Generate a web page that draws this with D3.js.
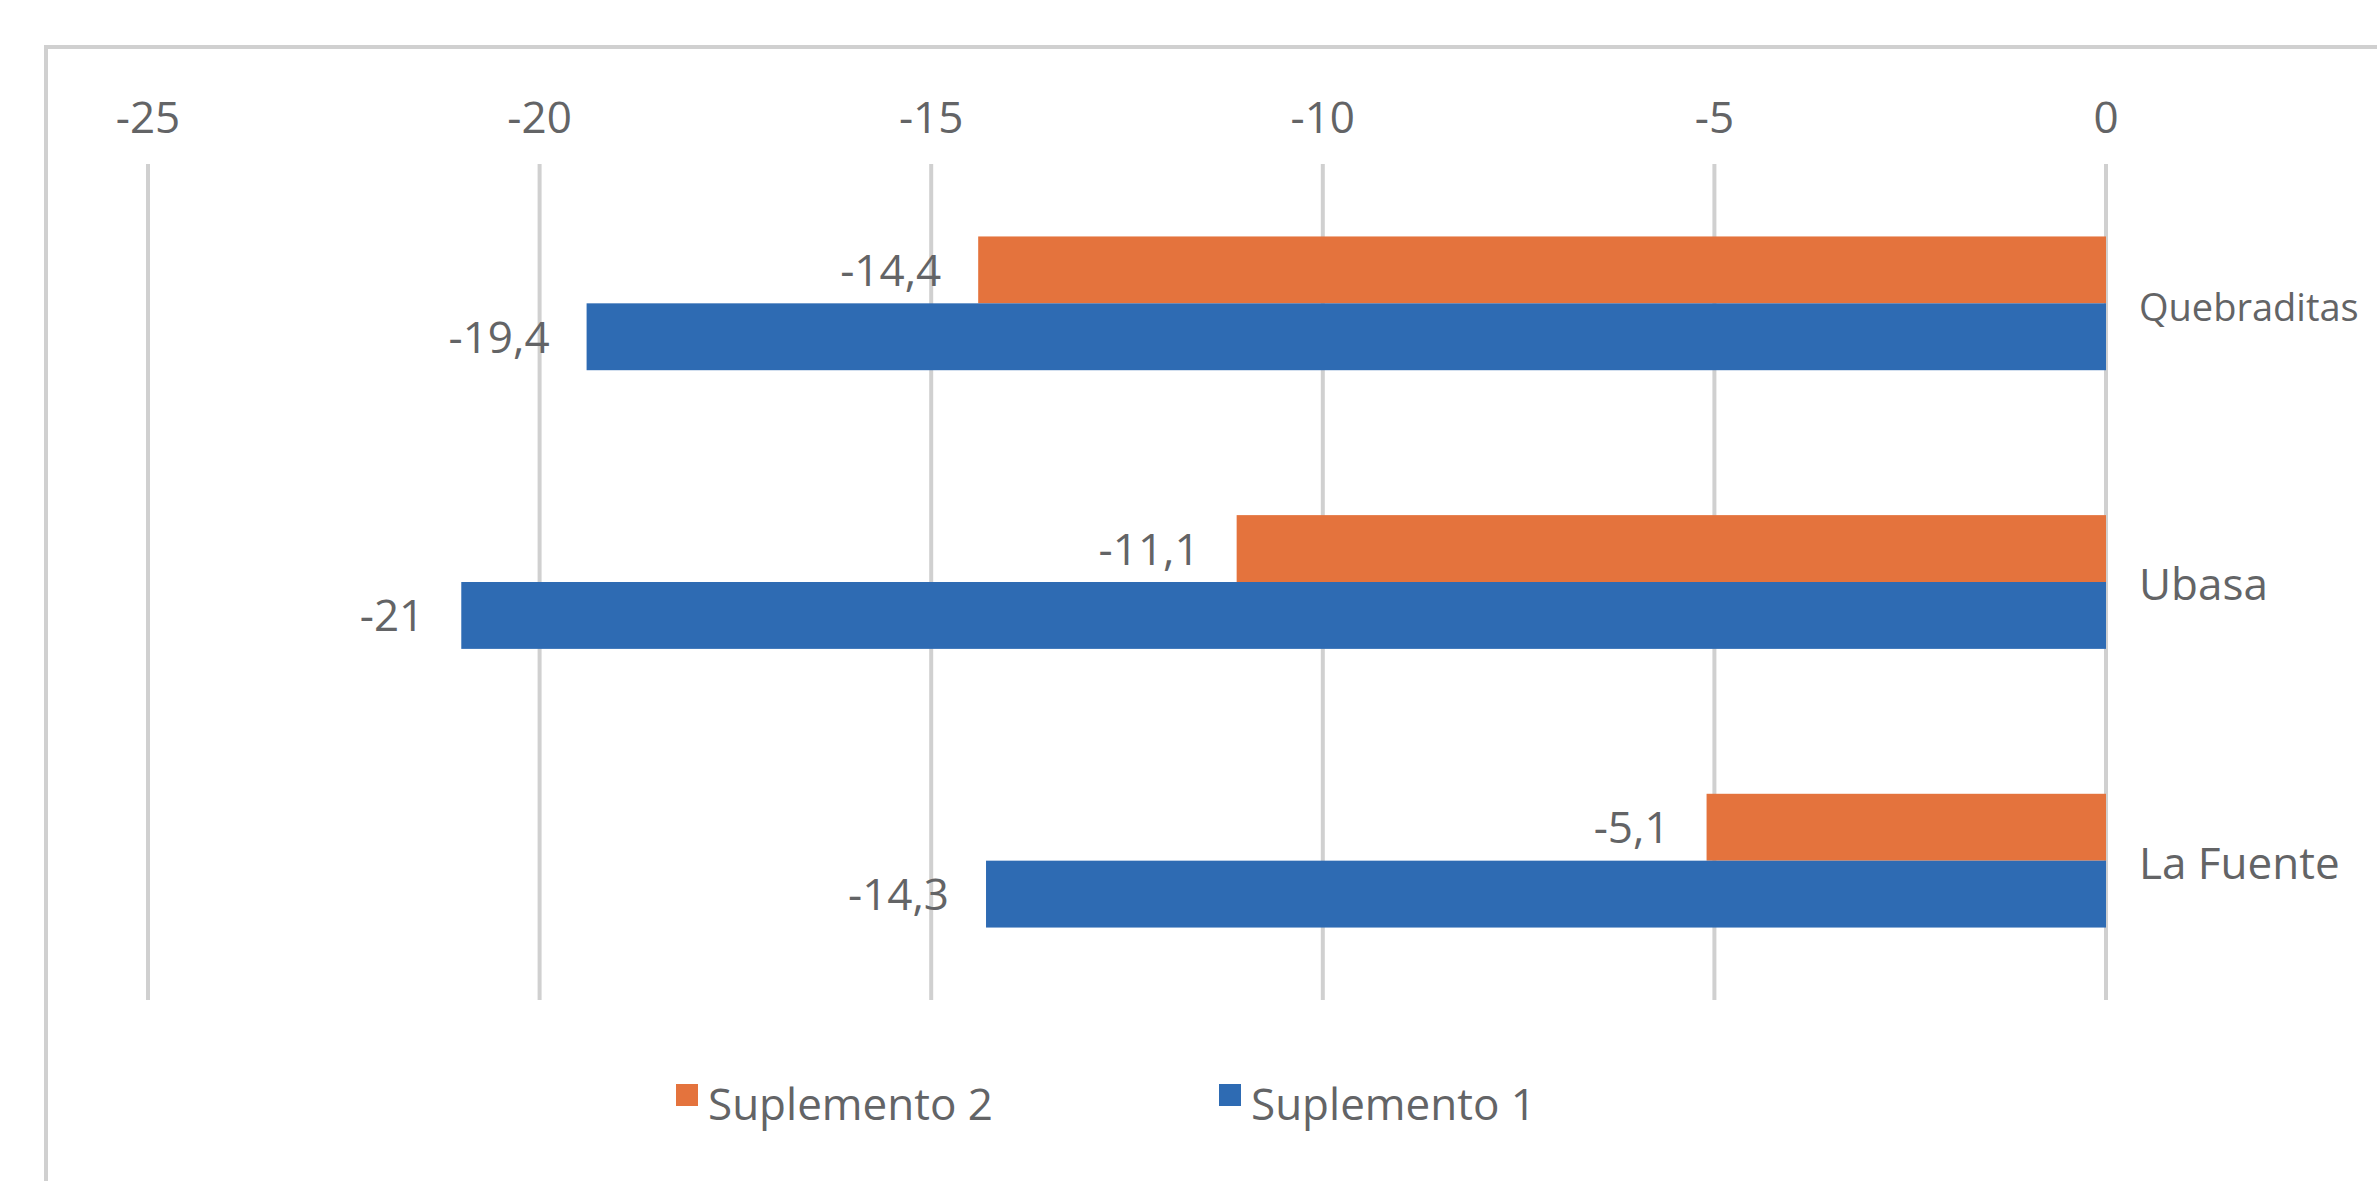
<!DOCTYPE html>
<html>
<head>
<meta charset="utf-8">
<script src="https://cdn.jsdelivr.net/npm/d3@7"></script>
<style>
  html, body { margin: 0; padding: 0; background: #ffffff; overflow: hidden; }
  svg { display: block; }
  text { font-family: "Open Sans", "DejaVu Sans", sans-serif; fill: #636466; }
</style>
</head>
<body>
<svg id="chart" width="2377" height="1181"></svg>
<script>
// ---- data ----
const categories = ["Quebraditas", "Ubasa", "La Fuente"];
const seriesNames = ["Suplemento 2", "Suplemento 1"];
const suplemento2 = [-14.4, -11.1, -5.1];
const suplemento1 = [-19.4, -21, -14.3];
const tickValues = [-25, -20, -15, -10, -5, 0];
const seriesColors = ["#e4733d", "#2e6bb3"];

const svg = d3.select("#chart");
const W = 2377, H = 1181;
const plot = { left: 148, right: 2106, top: 164, bottom: 1000 };
const fontSize = 44;

const locale = d3.formatLocale({ decimal: ",", thousands: ".", grouping: [3], currency: ["", ""], minus: "-" });
const fmt = locale.format("~g");

// outer chart border
svg.append("rect")
  .attr("x", 46).attr("y", 47)
  .attr("width", W + 100).attr("height", H + 100)
  .attr("fill", "none").attr("stroke", "#d0d0d0").attr("stroke-width", 4);

const x = d3.scaleLinear().domain([-25, 0]).range([plot.left, plot.right]);
const y = d3.scaleBand().domain(categories).range([plot.top, plot.bottom])
  .paddingInner(0.52).paddingOuter(0.26);
const ySub = d3.scaleBand().domain(seriesNames).range([0, y.bandwidth()]);

// gridlines
svg.append("g").selectAll("line").data(tickValues).join("line")
  .attr("x1", d => x(d)).attr("x2", d => x(d))
  .attr("y1", plot.top).attr("y2", plot.bottom)
  .attr("stroke", "#d0d0d0").attr("stroke-width", 4);

// tick labels on top
svg.append("g").selectAll("text").data(tickValues).join("text")
  .attr("x", d => x(d)).attr("y", 133)
  .attr("text-anchor", "middle")
  .attr("font-size", fontSize)
  .text(d => fmt(d));

// bars
const seriesData = [suplemento2, suplemento1];
seriesNames.forEach((name, si) => {
  const vals = seriesData[si];
  const g = svg.append("g");
  g.selectAll("rect").data(categories).join("rect")
    .attr("x", (c, i) => x(vals[i]))
    .attr("width", (c, i) => x(0) - x(vals[i]))
    .attr("y", c => y(c) + ySub(name))
    .attr("height", ySub.bandwidth())
    .attr("fill", seriesColors[si]);
  g.selectAll("text").data(categories).join("text")
    .attr("x", (c, i) => x(vals[i]) - 37)
    .attr("y", c => y(c) + ySub(name) + ySub.bandwidth() / 2 + 16)
    .attr("text-anchor", "end")
    .attr("font-size", fontSize)
    .text((c, i) => fmt(vals[i]));
});

// category labels at right of zero (shrink a label only if it would not fit)
const catX = x(0) + 33;
svg.append("g").selectAll("text").data(categories).join("text")
  .attr("x", catX)
  .attr("y", c => y(c) + y.bandwidth() / 2 + 18)
  .attr("font-size", fontSize)
  .text(c => c)
  .each(function () {
    const len = this.getComputedTextLength();
    const avail = W - 16 - catX;
    if (len > avail) {
      d3.select(this).attr("font-size", Math.floor(fontSize * avail / len));
    }
  });

// legend
const legendItems = [
  { name: "Suplemento 2", color: seriesColors[0], x: 676 },
  { name: "Suplemento 1", color: seriesColors[1], x: 1219 }
];
const lg = svg.append("g");
legendItems.forEach(it => {
  lg.append("rect").attr("x", it.x).attr("y", 1084).attr("width", 22).attr("height", 22).attr("fill", it.color);
  lg.append("text").attr("x", it.x + 32).attr("y", 1120).attr("font-size", fontSize).text(it.name);
});
</script>
</body>
</html>
